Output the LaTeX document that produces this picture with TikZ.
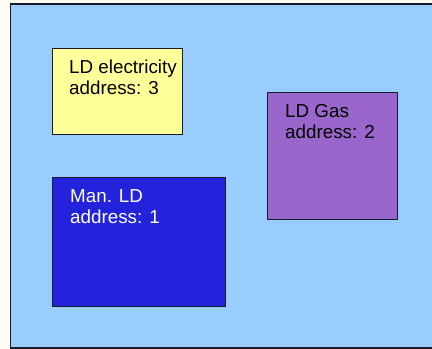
\documentclass[tikz,border=0pt]{standalone}
\usepackage{fontspec}
\setmainfont{Liberation Sans}
\definecolor{pagebg}{HTML}{FFFCF2}
\definecolor{outerbg}{HTML}{99CCFF}
\definecolor{ylw}{HTML}{FFFF99}
\definecolor{prp}{HTML}{9966CC}
\definecolor{blu}{HTML}{2323DC}
\definecolor{edge}{HTML}{1A1A2A}
\begin{document}
\begin{tikzpicture}[x=1bp,y=-1bp,
  boxstyle/.style={draw=edge,line width=1.2bp},
  lbl/.style={anchor=base west,inner sep=0pt,align=left,font=\fontsize{18.8bp}{21bp}\selectfont}]
\useasboundingbox (0,0) rectangle (432,349);
\fill[pagebg] (0,0) rectangle (432,349);
\draw[fill=outerbg,draw=edge,line width=1.5bp] (10.5,4) rectangle (445,348);
\node[boxstyle,fill=ylw,minimum width=130bp,minimum height=86bp,anchor=north west,inner sep=0pt] (elec) at (52,48) {};
\node[boxstyle,fill=prp,minimum width=130bp,minimum height=127bp,anchor=north west,inner sep=0pt] (gas) at (267,92) {};
\node[boxstyle,fill=blu,minimum width=173bp,minimum height=129bp,anchor=north west,inner sep=0pt] (man) at (52,177) {};
\node[lbl,text=black] (elect) at (69,94) {LD electricity\\address: 3};
\node[lbl,text=black] (gast) at (285,138) {LD Gas\\address: 2};
\node[lbl,text=white] (mant) at (70,223) {Man. LD\\address: 1};
\end{tikzpicture}
\end{document}
